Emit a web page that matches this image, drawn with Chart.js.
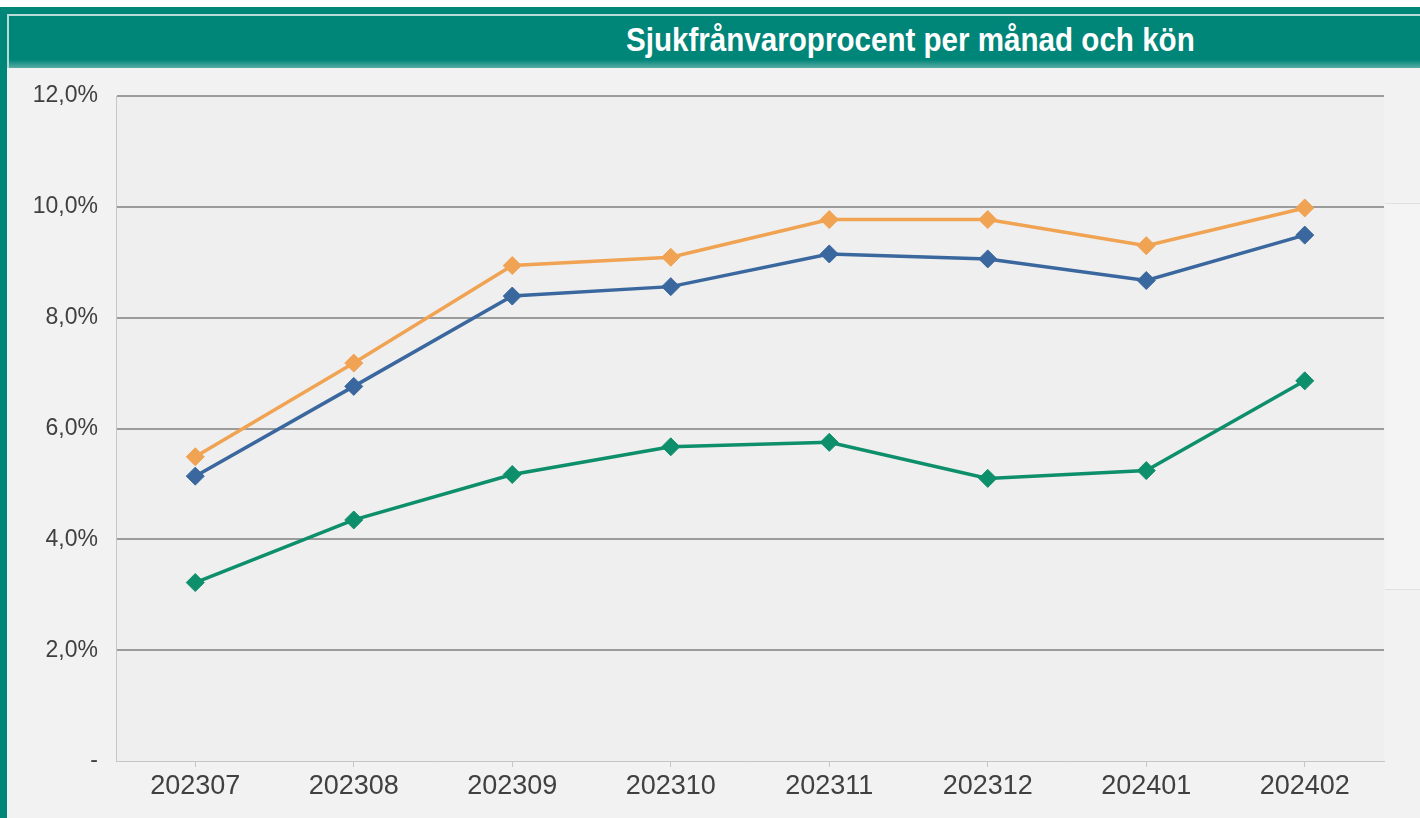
<!DOCTYPE html>
<html>
    <head>
        <title>Sjukfrånvaro</title>
        <meta charset="utf8">
        <script src="https://cdn.jsdelivr.net/npm/chart.js@4/dist/chart.umd.min.js"></script>
        <style>
                body{
                        margin: 0;
                        background-color: #ffffff;
                        font-family: "Liberation Sans", Arial, sans-serif;
                }
                .ram{
                        position: absolute;
                        left: 0px;
                        top: 7px;
                        width: 1420px;
                        height: 811px;
                        background-color: #008579;
                }
                .rubrik{
                        position: absolute;
                        left: 7px;
                        top: 14px;
                        width: 1413px;
                        height: 54px;
                        box-sizing: border-box;
                        border-top: 2px solid #b7dbd6;
                        border-left: 2px solid #b7dbd6;
                        background: linear-gradient(#008579 0%, #008579 84%, #5aaea5 100%);
                }
                .rubrik span{
                        position: absolute;
                        left: 617px;
                        top: 4px;
                        color: #ffffff;
                        font-family: "Liberation Sans", Arial, sans-serif;
                        font-weight: bold;
                        font-size: 34px;
                        white-space: nowrap;
                        transform: scaleX(0.87);
                        transform-origin: left top;
                }
                .panel{
                        position: absolute;
                        left: 7px;
                        top: 68px;
                        width: 1413px;
                        height: 750px;
                        background-color: #f2f2f2;
                }
                .hoger{
                        position: absolute;
                        left: 1385px;
                        top: 203px;
                        width: 35px;
                        height: 385px;
                        border-top: 1px solid #e0e0e0;
                        border-bottom: 1px solid #e0e0e0;
                        background-color: #f4f4f4;
                }
                .kontainer{
                        position: absolute;
                        left: 7px;
                        top: 68px;
                        width: 1413px;
                        height: 750px;
                }
        </style>
    </head>

    <body>
        <div class="ram"></div>
        <div class="rubrik"><span>Sjukfrånvaroprocent per månad och kön</span></div>
        <div class="panel"></div>
        <div class="hoger"></div>
        <div class="kontainer">
                <canvas id="myChart" width="1413" height="750"></canvas>
        </div>
	<script>
		// månader
		const manader = ['202307', '202308', '202309', '202310', '202311', '202312', '202401', '202402'];

		// sjukfrånvaro i procent
		const kvinnor = [5.49, 7.18, 8.94, 9.09, 9.77, 9.77, 9.30, 9.98];
		const totalt  = [5.14, 6.76, 8.39, 8.56, 9.15, 9.06, 8.67, 9.49];
		const man     = [3.22, 4.35, 5.17, 5.67, 5.75, 5.10, 5.24, 6.86];

		// y-axelns steg
		const yMin = 0;
		const yMax = 12;
		const ySteg = 2;

		function etikett(v) {
			if (v === 0) {
				return '-';
			}
			return v.toFixed(1).replace('.', ',') + '%';
		}

		function serie(namn, data, farg) {
			return {
				label: namn,
				data: data,
				borderColor: farg,
				backgroundColor: farg,
				borderWidth: 3.5,
				pointStyle: 'rectRot',
				pointRadius: 9,
				pointHoverRadius: 9,
				pointBorderWidth: 1,
				tension: 0
			};
		}

		// bakgrund för ritytan
		const ytaBakgrund = {
			id: 'ytaBakgrund',
			beforeDraw(chart) {
				const a = chart.chartArea;
				const c = chart.ctx;
				c.save();
				c.fillStyle = '#efefef';
				c.fillRect(a.left, a.top, a.right - a.left, a.bottom - a.top);
				c.restore();
			}
		};

		const ctx = document.getElementById('myChart').getContext('2d');
		const myChart = new Chart(ctx, {
		    type: 'line',
		    data: {
			labels: manader,
			datasets: [
			    serie('Kvinnor', kvinnor, '#f0a352'),
			    serie('Totalt', totalt, '#3a679e'),
			    serie('Män', man, '#0e8f6b')
			]
		    },
		    options: {
			responsive: false,
			animation: false,
			layout: {
			    autoPadding: false,
			    padding: { left: 0, right: 36, top: 28, bottom: 0 }
			},
			plugins: {
			    legend: { display: false },
			    tooltip: { enabled: false }
			},
			scales: {
			    x: {
				offset: true,
				afterFit: function (s) { s.height = 57; },
				grid: {
				    offset: false,
				    drawOnChartArea: false,
				    drawTicks: true,
				    tickLength: 6,
				    color: '#c6c6c6'
				},
				border: { color: '#c6c6c6', width: 1 },
				ticks: {
				    padding: 3,
				    color: '#404040',
				    font: { family: '"Liberation Sans", Arial, sans-serif', size: 27 }
				}
			    },
			    y: {
				min: yMin,
				max: yMax,
				afterFit: function (s) {
				    s.width = 109;
				    s.paddingTop = 14;
				    s.paddingBottom = 14;
				},
				grid: {
				    drawTicks: false,
				    lineWidth: 2,
				    color: function (c) {
					return c.tick.value === 0 ? 'rgba(0,0,0,0)' : '#9c9c9c';
				    }
				},
				border: { color: '#c6c6c6', width: 1 },
				ticks: {
				    stepSize: ySteg,
				    padding: 18,
				    color: '#404040',
				    font: { family: '"Liberation Sans", Arial, sans-serif', size: 23 },
				    callback: function (v) { return etikett(v); }
				}
			    }
			}
		    },
		    plugins: [ytaBakgrund]
		});
	</script>

    </body>
</html>
